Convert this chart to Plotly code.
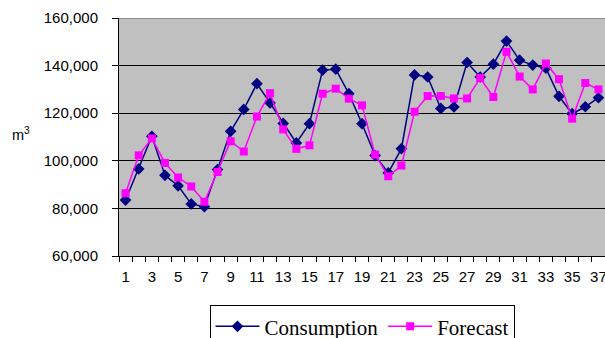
import plotly.graph_objects as go

periods = list(range(1, 38))
consumption = [83500, 96600, 110300, 93900, 89500, 81900, 80700, 96300, 112400, 121600,
               132400, 124300, 115700, 107500, 115600, 138100, 138500, 128200, 115600, 102200,
               94900, 105100, 136100, 135200, 122000, 122600, 141300, 135200, 140600, 150300,
               142300, 140200, 138900, 127100, 119800, 122700, 126500]
forecast = [86400, 102300, 109400, 99100, 93000, 89200, 82800, 95300, 108200, 103900,
            118600, 128400, 113200, 105000, 106500, 128200, 130300, 126100, 123300, 102600,
            93500, 98000, 120600, 127200, 127200, 126200, 126200, 134800, 126800, 145800,
            135400, 130000, 140900, 134300, 117700, 132700, 130000]
x_tick_vals = list(range(1, 38, 2))
y_tick_vals = [60000, 80000, 100000, 120000, 140000, 160000]
y_tick_text = ["60,000", "80,000", "100,000", "120,000", "140,000", "160,000"]

fig = go.Figure()
fig.add_trace(go.Scatter(
    x=periods, y=consumption, name="Consumption", mode="lines+markers",
    line=dict(color="#000080", width=1.5),
    marker=dict(symbol="diamond", size=9, color="#000080"), cliponaxis=False))
fig.add_trace(go.Scatter(
    x=periods, y=forecast, name="Forecast", mode="lines+markers",
    line=dict(color="#FF00FF", width=1.5),
    marker=dict(symbol="square", size=8, color="#FF00FF"), cliponaxis=False))

fig.update_layout(
    width=605, height=338,
    margin=dict(l=119, r=0, t=18, b=82, autoexpand=False),
    paper_bgcolor="white", plot_bgcolor="#C0C0C0",
    font=dict(family="Liberation Sans, Arial, sans-serif", size=15, color="black"),
    showlegend=True,
    legend=dict(orientation="h", x=0.5, xanchor="center",
                yref="container", y=0.097, yanchor="top",
                font=dict(family="Liberation Serif, Times New Roman, serif", size=21, color="black"),
                bordercolor="black", borderwidth=1, bgcolor="white",
                itemwidth=44, tracegroupgap=0),
    xaxis=dict(range=[0.5, 37.5], tickvals=x_tick_vals, ticks="", showgrid=False,
               showline=True, linecolor="black", linewidth=1, zeroline=False,
               automargin=False, ticklabelstandoff=7, ticklabeloverflow="allow",
               minor=dict(tickvals=[v + 0.5 for v in range(0, 38)], ticks="outside",
                          ticklen=5, tickcolor="black", showgrid=False)),
    yaxis=dict(range=[60000, 160000], tickvals=y_tick_vals, ticktext=y_tick_text,
               ticks="outside", ticklen=6, tickcolor="black", automargin=False,
               ticklabelstandoff=11,
               showgrid=True, gridcolor="black", gridwidth=1,
               showline=True, linecolor="black", linewidth=1, zeroline=False),
)
fig.add_shape(type="line", xref="paper", yref="y", x0=0, x1=1, y0=160000, y1=160000,
              line=dict(color="#808080", width=1.5))
fig.add_annotation(text="m<sup>3</sup>", xref="paper", yref="paper", x=-0.224, y=0.513,
                   xanchor="left", yanchor="middle", showarrow=False,
                   font=dict(family="Liberation Sans, Arial, sans-serif", size=14.5))

fig.write_html("out.html", config={"responsive": False, "displayModeBar": False},
               post_script="document.body.style.margin='0';document.body.style.overflow='hidden';")
